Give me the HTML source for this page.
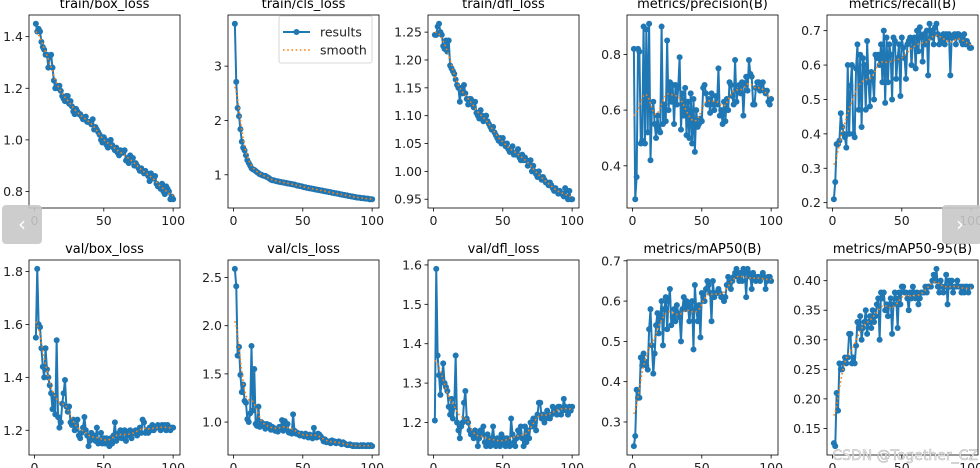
<!DOCTYPE html>
<html><head><meta charset="utf-8">
<style>
html,body{margin:0;padding:0;background:#fff;}
svg{display:block;font-family:"DejaVu Sans","Liberation Sans",sans-serif;}
</style></head>
<body>
<svg id="chart" width="980" height="468" viewBox="0 0 980 468" xmlns="http://www.w3.org/2000/svg"></svg>
<script>
const titles = ["train/box_loss","train/cls_loss","train/dfl_loss","metrics/precision(B)","metrics/recall(B)","val/box_loss","val/cls_loss","val/dfl_loss","metrics/mAP50(B)","metrics/mAP50-95(B)"];
const xTicks = [0,50,100];
const yTicks0 = [0.8,1.0,1.2,1.4];
const yTicks1 = [1,2,3];
const yTicks2 = [0.95,1.00,1.05,1.10,1.15,1.20,1.25];
const yTicks3 = [0.4,0.6,0.8];
const yTicks4 = [0.2,0.3,0.4,0.5,0.6,0.7];
const yTicks5 = [1.2,1.4,1.6,1.8];
const yTicks6 = [1.0,1.5,2.0,2.5];
const yTicks7 = [1.2,1.3,1.4,1.5,1.6];
const yTicks8 = [0.3,0.4,0.5,0.6,0.7];
const yTicks9 = [0.15,0.20,0.25,0.30,0.35,0.40];
const trainBox = [1.45,1.42,1.43,1.42,1.38,1.36,1.35,1.33,1.33,1.28,1.32,1.33,1.28,1.23,1.20,1.21,1.20,1.21,1.19,1.17,1.16,1.15,1.17,1.17,1.14,1.15,1.13,1.11,1.10,1.12,1.11,1.10,1.10,1.09,1.08,1.08,1.09,1.07,1.07,1.07,1.06,1.08,1.04,1.05,1.04,1.03,1.02,1.00,0.99,1.01,1.00,0.98,0.97,0.99,1.00,0.98,0.97,0.96,0.97,0.95,0.94,0.96,0.95,0.95,0.96,0.92,0.93,0.91,0.94,0.92,0.93,0.90,0.91,0.90,0.89,0.88,0.89,0.88,0.87,0.88,0.87,0.86,0.84,0.87,0.86,0.85,0.86,0.83,0.82,0.82,0.81,0.83,0.80,0.79,0.82,0.81,0.80,0.77,0.78,0.77];
const trainCls = [3.78,2.71,2.23,2.08,1.84,1.61,1.50,1.45,1.36,1.27,1.22,1.17,1.12,1.10,1.09,1.07,1.05,1.03,1.01,1.00,0.99,0.98,0.98,0.96,0.95,0.93,0.91,0.90,0.90,0.89,0.88,0.88,0.87,0.87,0.86,0.86,0.85,0.85,0.84,0.84,0.83,0.83,0.82,0.82,0.81,0.80,0.80,0.79,0.79,0.78,0.77,0.77,0.76,0.76,0.75,0.75,0.74,0.74,0.73,0.73,0.72,0.72,0.71,0.71,0.70,0.70,0.69,0.69,0.68,0.68,0.67,0.67,0.66,0.66,0.65,0.65,0.64,0.64,0.63,0.63,0.62,0.62,0.61,0.61,0.60,0.60,0.59,0.59,0.58,0.58,0.58,0.57,0.57,0.57,0.56,0.56,0.56,0.55,0.55,0.55];
const trainDfl = [1.245,1.245,1.26,1.265,1.25,1.245,1.225,1.22,1.235,1.215,1.235,1.19,1.185,1.18,1.175,1.165,1.155,1.15,1.125,1.15,1.14,1.155,1.14,1.13,1.12,1.13,1.13,1.12,1.115,1.125,1.105,1.10,1.095,1.11,1.10,1.09,1.095,1.10,1.09,1.085,1.08,1.075,1.08,1.07,1.065,1.06,1.055,1.06,1.05,1.06,1.05,1.045,1.05,1.04,1.035,1.04,1.045,1.03,1.03,1.035,1.04,1.025,1.02,1.03,1.02,1.025,1.02,1.01,1.015,1.02,1.0,1.01,1.0,0.995,0.99,1.0,0.99,0.985,0.99,0.985,0.98,0.98,0.975,0.98,0.975,0.97,0.965,0.97,0.965,0.96,0.965,0.96,0.96,0.955,0.97,0.955,0.95,0.965,0.95,0.95];
const precision = [0.82,0.28,0.36,0.82,0.81,0.48,0.49,0.90,0.48,0.89,0.52,0.91,0.42,0.60,0.63,0.55,0.50,0.58,0.53,0.52,0.90,0.55,0.62,0.56,0.85,0.60,0.70,0.63,0.69,0.55,0.69,0.62,0.68,0.79,0.53,0.66,0.58,0.68,0.51,0.63,0.50,0.66,0.48,0.64,0.45,0.60,0.54,0.55,0.57,0.56,0.68,0.69,0.66,0.62,0.64,0.59,0.66,0.62,0.60,0.65,0.62,0.75,0.58,0.60,0.55,0.63,0.56,0.64,0.60,0.70,0.69,0.65,0.62,0.78,0.63,0.67,0.69,0.66,0.70,0.58,0.69,0.72,0.67,0.78,0.73,0.72,0.62,0.62,0.68,0.70,0.70,0.67,0.69,0.70,0.67,0.66,0.67,0.63,0.62,0.64];
const recall = [0.21,0.26,0.37,0.37,0.38,0.46,0.42,0.40,0.39,0.36,0.60,0.40,0.54,0.60,0.40,0.39,0.59,0.66,0.47,0.63,0.42,0.62,0.60,0.47,0.67,0.55,0.48,0.58,0.56,0.50,0.63,0.62,0.63,0.60,0.66,0.55,0.70,0.49,0.68,0.55,0.66,0.63,0.50,0.68,0.67,0.56,0.62,0.66,0.51,0.68,0.65,0.62,0.56,0.66,0.67,0.68,0.60,0.67,0.68,0.59,0.70,0.64,0.71,0.68,0.61,0.69,0.66,0.70,0.57,0.72,0.68,0.70,0.66,0.71,0.72,0.69,0.66,0.68,0.67,0.69,0.66,0.69,0.68,0.69,0.57,0.68,0.68,0.69,0.66,0.69,0.69,0.68,0.67,0.66,0.69,0.66,0.67,0.66,0.65,0.65];
const valBox = [1.55,1.81,1.60,1.59,1.51,1.44,1.40,1.51,1.43,1.40,1.37,1.34,1.28,1.33,1.26,1.54,1.25,1.21,1.23,1.30,1.34,1.39,1.29,1.27,1.29,1.23,1.22,1.24,1.20,1.22,1.24,1.18,1.17,1.19,1.21,1.25,1.20,1.18,1.14,1.16,1.19,1.17,1.18,1.16,1.21,1.15,1.16,1.19,1.15,1.17,1.15,1.17,1.16,1.14,1.17,1.15,1.18,1.23,1.16,1.17,1.19,1.20,1.17,1.19,1.20,1.16,1.19,1.18,1.20,1.17,1.19,1.19,1.20,1.18,1.20,1.21,1.19,1.24,1.23,1.19,1.20,1.19,1.21,1.20,1.22,1.20,1.21,1.21,1.22,1.21,1.20,1.22,1.21,1.22,1.20,1.22,1.21,1.20,1.21,1.21];
const valCls = [2.59,2.41,1.69,1.78,1.49,1.31,1.39,1.22,1.20,1.03,1.00,1.09,1.79,1.12,1.55,0.98,0.96,1.16,0.95,1.00,0.97,0.98,0.93,0.98,0.95,0.97,0.92,0.95,0.94,0.91,0.92,0.90,0.95,0.93,1.02,0.91,1.01,0.93,0.98,0.89,0.90,0.88,1.08,0.91,0.88,0.89,0.87,0.86,0.88,0.86,0.85,0.88,0.86,0.84,0.87,0.86,0.83,0.94,0.86,0.84,0.88,0.87,0.85,0.83,0.80,0.82,0.79,0.80,0.80,0.78,0.81,0.79,0.80,0.78,0.79,0.80,0.78,0.77,0.79,0.78,0.77,0.76,0.76,0.77,0.76,0.75,0.76,0.75,0.76,0.75,0.75,0.76,0.75,0.76,0.75,0.75,0.76,0.75,0.76,0.75];
const valDfl = [1.205,1.59,1.37,1.32,1.27,1.31,1.35,1.30,1.29,1.28,1.24,1.22,1.26,1.21,1.24,1.37,1.20,1.18,1.16,1.19,1.20,1.25,1.28,1.21,1.20,1.18,1.17,1.17,1.16,1.18,1.17,1.14,1.16,1.18,1.17,1.19,1.15,1.14,1.17,1.15,1.14,1.16,1.19,1.15,1.14,1.16,1.15,1.14,1.17,1.15,1.16,1.14,1.16,1.15,1.14,1.21,1.17,1.15,1.14,1.16,1.18,1.17,1.19,1.16,1.14,1.19,1.15,1.18,1.16,1.20,1.19,1.21,1.20,1.18,1.22,1.25,1.25,1.21,1.22,1.20,1.21,1.23,1.22,1.21,1.22,1.24,1.23,1.23,1.22,1.24,1.24,1.22,1.23,1.26,1.24,1.23,1.22,1.24,1.23,1.24];
const map50 = [0.24,0.265,0.38,0.36,0.36,0.46,0.44,0.47,0.45,0.44,0.43,0.53,0.58,0.49,0.42,0.47,0.54,0.57,0.52,0.56,0.60,0.49,0.58,0.61,0.53,0.60,0.63,0.54,0.56,0.58,0.55,0.59,0.57,0.56,0.50,0.58,0.61,0.58,0.60,0.59,0.55,0.58,0.60,0.48,0.64,0.58,0.55,0.59,0.51,0.62,0.61,0.60,0.63,0.65,0.64,0.62,0.55,0.65,0.61,0.62,0.62,0.63,0.62,0.61,0.61,0.60,0.61,0.64,0.66,0.64,0.63,0.65,0.66,0.67,0.68,0.66,0.65,0.67,0.65,0.68,0.67,0.61,0.68,0.67,0.66,0.63,0.67,0.66,0.65,0.66,0.66,0.65,0.66,0.67,0.66,0.63,0.65,0.66,0.66,0.65];
const map5095 = [0.125,0.12,0.21,0.18,0.26,0.25,0.25,0.26,0.27,0.26,0.27,0.31,0.31,0.26,0.27,0.26,0.29,0.33,0.32,0.34,0.30,0.32,0.33,0.35,0.31,0.33,0.34,0.32,0.35,0.33,0.34,0.36,0.37,0.30,0.38,0.37,0.38,0.35,0.36,0.34,0.36,0.37,0.31,0.36,0.38,0.37,0.32,0.38,0.36,0.39,0.39,0.38,0.38,0.37,0.35,0.38,0.37,0.39,0.38,0.37,0.38,0.36,0.37,0.38,0.38,0.38,0.39,0.38,0.39,0.39,0.39,0.40,0.41,0.40,0.42,0.39,0.38,0.40,0.39,0.38,0.39,0.41,0.36,0.40,0.39,0.40,0.38,0.39,0.39,0.40,0.39,0.39,0.38,0.39,0.38,0.39,0.39,0.38,0.39,0.39];

const seriesList = [trainBox,trainCls,trainDfl,precision,recall,valBox,valCls,valDfl,map50,map5095];
const yTickList = [yTicks0,yTicks1,yTicks2,yTicks3,yTicks4,yTicks5,yTicks6,yTicks7,yTicks8,yTicks9];
const yDecimals = [1,0,2,1,1,1,1,1,1,2];

const NS = "http://www.w3.org/2000/svg";
const svg = document.getElementById("chart");
function mk(tag, attrs, parent){const e=document.createElementNS(NS,tag);for(const k in attrs)e.setAttribute(k,attrs[k]);(parent||svg).appendChild(e);return e;}

function smooth(arr, sigma){
  const r=Math.round(4*sigma), n=arr.length, out=[];
  for(let i=0;i<n;i++){let s=0,w=0;for(let k=-r;k<=r;k++){let j=i+k;if(j<0)j=-j-1;if(j>=n)j=2*n-j-1;j=Math.max(0,Math.min(n-1,j));const g=Math.exp(-k*k/(2*sigma*sigma));s+=g*arr[j];w+=g;}out.push(s/w);}
  return out;
}

const lefts=[29,228,428,627,827], W=151;
const rowTop=[15,260], rowBot=[208,455];

seriesList.forEach((data,p)=>{
  const row=Math.floor(p/5), col=p%5;
  const L=lefts[col], R=L+W, T=rowTop[row], B=rowBot[row];
  const n=data.length;
  const mn=Math.min(...data), mx=Math.max(...data), pad=(mx-mn)*0.05;
  const y0=mn-pad, y1=mx+pad;
  const xMin=1-(n-1)*0.05, xMax=n+(n-1)*0.05;
  const xs=v=>L+(v-xMin)/(xMax-xMin)*W;
  const ys=v=>B-(v-y0)/(y1-y0)*(B-T);
  const g=mk("g",{});
  
  
  const t=mk("text",{x:(L+R)/2,y:row===0?8:253,"text-anchor":"middle","font-size":"13",fill:"#000"},g);
  t.textContent=titles[p];
  
  
  const clipId="c"+p;
  const cp=mk("clipPath",{id:clipId},g);mk("rect",{x:L,y:T,width:W,height:B-T},cp);
  const pts=data.map((v,i)=>xs(i+1).toFixed(2)+","+ys(v).toFixed(2)).join(" ");
  const line=mk("polyline",{points:pts,fill:"none",stroke:"#1f77b4","stroke-width":"2","stroke-linejoin":"round","clip-path":"url(#"+clipId+")"},g);
  
  
  data.forEach((v,i)=>{
    const c=mk("circle",{cx:xs(i+1).toFixed(2),cy:ys(v).toFixed(2),r:"3",fill:"#1f77b4"},g);
    
    
  });
  const sm=smooth(data,3);
  const spts=sm.map((v,i)=>xs(i+1).toFixed(2)+","+ys(v).toFixed(2)).join(" ");
  const sl=mk("polyline",{points:spts,fill:"none",stroke:"#ff7f0e","stroke-width":"1.6","stroke-dasharray":"1.6,2.6"},g);
  
  
  const fr=mk("rect",{x:L,y:T,width:W,height:B-T,fill:"none",stroke:"#000","stroke-width":"0.8"},g);
  
  
  xTicks.forEach(v=>{
    const x=xs(v);
    mk("line",{x1:x,x2:x,y1:B,y2:B+3.5,stroke:"#000","stroke-width":"0.8"},g);
    const tx=mk("text",{x:x,y:B+17,"text-anchor":"middle","font-size":"12.5",fill:"#222"},g);
    tx.textContent=v;
    
    
  });
  yTickList[p].forEach(v=>{
    const y=ys(v);
    if(y<T-1||y>B+1)return;
    mk("line",{x1:L-3.5,x2:L,y1:y,y2:y,stroke:"#000","stroke-width":"0.8"},g);
    const ty=mk("text",{x:L-6,y:y+4.5,"text-anchor":"end","font-size":"12.5",fill:"#222"},g);
    ty.textContent=v.toFixed(yDecimals[p]);
    
    
  });
});

// legend
const lg=mk("g",{});


mk("rect",{x:279,y:16,width:93,height:47,rx:2,fill:"#fff","fill-opacity":"0.85",stroke:"#ccc","stroke-width":"0.8"},lg);
mk("line",{x1:283,x2:310,y1:32,y2:32,stroke:"#1f77b4","stroke-width":"2"},lg);
mk("circle",{cx:296.5,cy:32,r:3,fill:"#1f77b4"},lg);
mk("line",{x1:283,x2:310,y1:50,y2:50,stroke:"#ff7f0e","stroke-width":"1.6","stroke-dasharray":"1.6,2.6"},lg);
const l1=mk("text",{x:320,y:36.5,"font-size":"12.5",fill:"#222"},lg);l1.textContent="results";


const l2=mk("text",{x:320,y:54.5,"font-size":"12.5",fill:"#222"},lg);l2.textContent="smooth";



// nav buttons
const pb=mk("g",{});


mk("rect",{x:2,y:205,width:40,height:39,rx:4,fill:"#c8c8c8","fill-opacity":"0.9"},pb);
const pt=mk("text",{x:22,y:231,"text-anchor":"middle","font-size":"20",fill:"#fff"},pb);pt.textContent="‹";
const nb=mk("g",{});


mk("rect",{x:942,y:205,width:40,height:39,rx:4,fill:"#c8c8c8","fill-opacity":"0.9"},nb);
const nt=mk("text",{x:960,y:231,"text-anchor":"middle","font-size":"20",fill:"#fff"},nb);nt.textContent="›";

const wm=mk("text",{x:978,y:460,"text-anchor":"end","font-size":"14",fill:"#eee",stroke:"#999","stroke-width":"0.5","stroke-opacity":"0.7"});
wm.textContent="CSDN @Together_CZ";


</script>
</body></html>
